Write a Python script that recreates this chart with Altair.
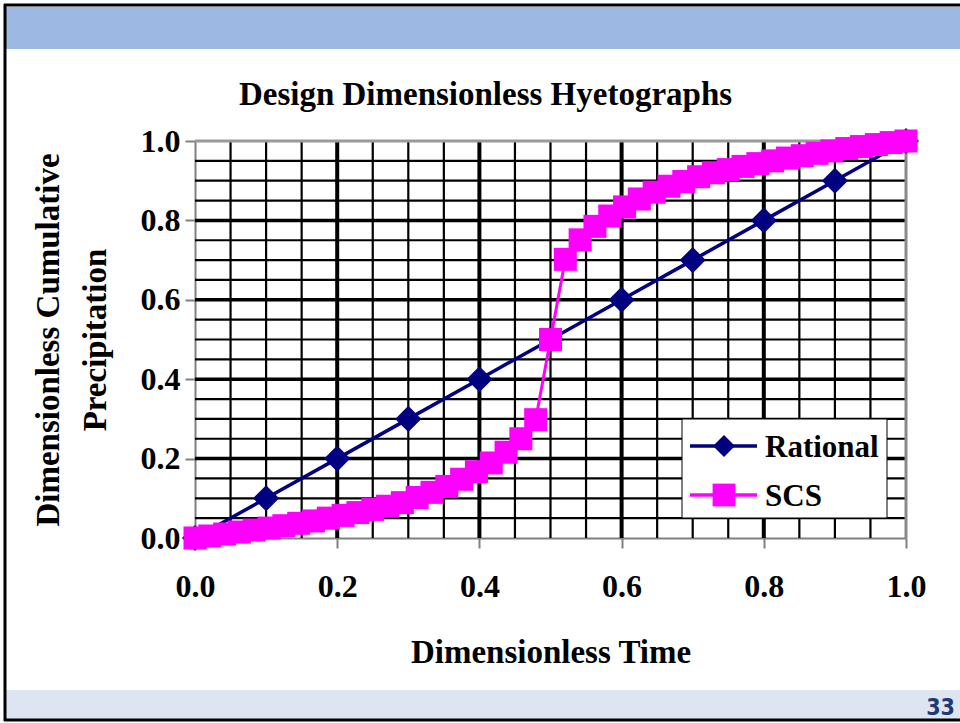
import altair as alt
import pandas as pd

# ---- data -------------------------------------------------------------
# Rational method: uniform intensity, cumulative depth grows linearly
rational_time = [0.0, 0.1, 0.2, 0.3, 0.4, 0.5, 0.6, 0.7, 0.8, 0.9, 1.0]
rational_precip = [0.0, 0.1, 0.2, 0.3, 0.4, 0.5, 0.6, 0.7, 0.8, 0.9, 1.0]

# SCS 24-hour storm, ordinates every half hour
scs_hours = [0, 0.5, 1, 1.5, 2, 2.5, 3, 3.5, 4, 4.5, 5, 5.5, 6, 6.5, 7, 7.5,
             8, 8.5, 9, 9.5, 10, 10.5, 11, 11.5, 12, 12.5, 13, 13.5, 14, 14.5,
             15, 15.5, 16, 16.5, 17, 17.5, 18, 18.5, 19, 19.5, 20, 20.5, 21,
             21.5, 22, 22.5, 23, 23.5, 24]
scs_precip = [0.000, 0.005, 0.010, 0.015, 0.020, 0.025, 0.031, 0.037, 0.043,
              0.050, 0.057, 0.064, 0.072, 0.080, 0.089, 0.102, 0.115, 0.130,
              0.148, 0.167, 0.189, 0.216, 0.250, 0.298, 0.500, 0.702, 0.751,
              0.785, 0.811, 0.834, 0.854, 0.871, 0.886, 0.898, 0.910, 0.920,
              0.928, 0.936, 0.943, 0.950, 0.957, 0.963, 0.969, 0.975, 0.981,
              0.986, 0.991, 0.996, 1.000]
storm_hours = 24

series_names = ["Rational", "SCS"]
series_colors = ["#000080", "#FF00FF"]
series_shapes = ["diamond", "square"]

tick_values = [0.0, 0.2, 0.4, 0.6, 0.8, 1.0]
minor_grid = [0.05, 0.1, 0.15, 0.25, 0.3, 0.35, 0.45, 0.5, 0.55,
              0.65, 0.7, 0.75, 0.85, 0.9, 0.95]
major_grid = [0.2, 0.4, 0.6, 0.8]
frame_edge = [1.0]

chart_title = "Design Dimensionless Hyetographs"
x_title = "Dimensionless Time"
y_title = ["Dimensionless Cumulative", "Precipitation"]
page_number = "33"

# ---- layout -----------------------------------------------------------
W, H = 711, 397          # plot area
LEFT, TOP = 195, 141     # plot origin on the page
PAGE_W, PAGE_H = 960, 723
SERIF = "Liberation Serif, Times New Roman, serif"

rational = pd.DataFrame({"t": rational_time, "p": rational_precip})
scs = pd.DataFrame({"t": [h / storm_hours for h in scs_hours], "p": scs_precip})
one = pd.DataFrame({"k": [0]})

xscale = alt.Scale(domain=[0, 1], nice=False, zero=False)
yscale = alt.Scale(domain=[0, 1], nice=False, zero=False)

x_axis = alt.Axis(
    values=tick_values, format=".1f", grid=False,
    labelFont=SERIF, labelFontSize=32, labelFontWeight="bold", labelColor="black",
    labelPadding=23, labelFlush=False, labelOverlap=False,
    tickColor="#808080", tickSize=10, tickWidth=2,
    domainColor="#808080", domainWidth=2,
    title=x_title, titleFont=SERIF, titleFontSize=33, titleFontWeight="bold",
    titleColor="black", titleY=124, titleBaseline="alphabetic",
)
y_axis = alt.Axis(
    values=tick_values, format=".1f", grid=False,
    labelFont=SERIF, labelFontSize=32, labelFontWeight="bold", labelColor="black",
    labelPadding=5, labelFlush=False, labelOverlap=False,
    tickColor="#808080", tickSize=10, tickWidth=2,
    domainColor="#808080", domainWidth=2,
    title=y_title, titleFont=SERIF, titleFontSize=33, titleFontWeight="bold",
    titleColor="black", titleX=-147, titleY=H / 2, titleAngle=270,
    titleAlign="center", titleBaseline="middle", titleLineHeight=47,
)


def X(field):
    return alt.X(field, type="quantitative", scale=xscale, axis=x_axis)


def Y(field):
    return alt.Y(field, type="quantitative", scale=yscale, axis=y_axis)


def px(v):
    return alt.value(v - LEFT)


def py(v):
    return alt.value(v - TOP)


# ---- slide decoration ---------------------------------------------------
header = alt.Chart(one).mark_rect(color="#9DB8E3").encode(
    x=px(6), x2=px(PAGE_W), y=py(7), y2=py(49))
footer = alt.Chart(one).mark_rect(color="#DEE5F2").encode(
    x=px(6), x2=px(PAGE_W), y=py(690), y2=py(719))
border_top = alt.Chart(one).mark_rule(color="black", strokeWidth=3).encode(
    x=px(4), x2=px(PAGE_W), y=py(5))
border_left = alt.Chart(one).mark_rule(color="black", strokeWidth=3).encode(
    x=px(5), y=py(4), y2=py(721))
border_bottom = alt.Chart(one).mark_rule(color="black", strokeWidth=3).encode(
    x=px(4), x2=px(PAGE_W), y=py(720))
page_label = alt.Chart(one).mark_text(
    text=page_number, font="DejaVu Sans Condensed, Liberation Sans Narrow, Arial Narrow, sans-serif",
    fontSize=23, fontWeight="bold", color="#1F3A73", align="right", baseline="alphabetic",
).encode(x=px(955), y=py(715))
title = alt.Chart(one).mark_text(
    text=chart_title, font=SERIF, fontSize=33, fontWeight="bold", color="black",
    align="center", baseline="alphabetic",
).encode(x=px(485.5), y=py(105))

# ---- grid ---------------------------------------------------------------
vminor = alt.Chart(pd.DataFrame({"g": minor_grid})).mark_rule(
    color="black", strokeWidth=2.2).encode(x=X("g"))
hminor = alt.Chart(pd.DataFrame({"g": minor_grid})).mark_rule(
    color="black", strokeWidth=2.2).encode(y=Y("g"))
vmajor = alt.Chart(pd.DataFrame({"g": major_grid})).mark_rule(
    color="black", strokeWidth=4).encode(x=X("g"))
hmajor = alt.Chart(pd.DataFrame({"g": major_grid})).mark_rule(
    color="black", strokeWidth=3.5).encode(y=Y("g"))
frame_top = alt.Chart(pd.DataFrame({"g": frame_edge})).mark_rule(
    color="#9A9A9A", strokeWidth=3).encode(y=Y("g"))
frame_right = alt.Chart(pd.DataFrame({"g": frame_edge})).mark_rule(
    color="#8A8A8A", strokeWidth=3).encode(x=X("g"))

# ---- series ---------------------------------------------------------------
rat_line = alt.Chart(rational).mark_line(color=series_colors[0], strokeWidth=3.5).encode(
    x=X("t"), y=Y("p"))
rat_pts = alt.Chart(rational).mark_point(
    shape=series_shapes[0], filled=True, size=680, color=series_colors[0], opacity=1).encode(
    x=X("t"), y=Y("p"))
scs_line = alt.Chart(scs).mark_line(color=series_colors[1], strokeWidth=3).encode(
    x=X("t"), y=Y("p"))
scs_pts = alt.Chart(scs).mark_point(
    shape=series_shapes[1], filled=True, size=530, color=series_colors[1], opacity=1).encode(
    x=X("t"), y=Y("p"))

# ---- legend ---------------------------------------------------------------
legend_layers = [
    alt.Chart(one).mark_rect(fill="white", stroke="black", strokeWidth=1).encode(
        x=px(682), x2=px(887), y=py(419), y2=py(518))
]
for i, (name, color, shape) in enumerate(zip(series_names, series_colors, series_shapes)):
    cy = 446 + 49 * i
    legend_layers.append(alt.Chart(one).mark_rule(color=color, strokeWidth=3.5).encode(
        x=px(690), x2=px(757), y=py(cy)))
    legend_layers.append(alt.Chart(one).mark_point(
        shape=shape, filled=True, size=480 if shape == "diamond" else 520,
        color=color, opacity=1).encode(x=px(724), y=py(cy)))
    legend_layers.append(alt.Chart(one).mark_text(
        text=name, font=SERIF, fontSize=31, fontWeight="bold", color="black",
        align="left", baseline="alphabetic").encode(x=px(765), y=py(cy + 10.5)))

chart = alt.layer(
    header, footer, border_top, border_left, border_bottom, page_label, title,
    vminor, hminor, vmajor, hmajor, frame_top, frame_right,
    rat_line, rat_pts, scs_line, scs_pts, *legend_layers,
).properties(
    width=W, height=H,
    padding={"left": LEFT, "top": TOP, "right": PAGE_W - LEFT - W, "bottom": PAGE_H - TOP - H},
    autosize=alt.AutoSizeParams(type="none"),
    background="white",
).configure_view(stroke=None)

chart.save("out.html", embed_options={"renderer": "svg", "actions": False})
